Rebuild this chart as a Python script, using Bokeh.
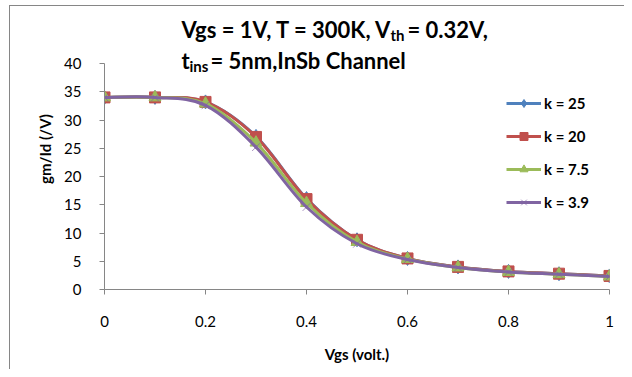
import numpy as np
from bokeh.plotting import figure
from bokeh.models import Range1d, FixedTicker, Label, Legend, LegendItem
from bokeh.embed import file_html
from bokeh.resources import INLINE

# ---------------- data ----------------
vgs = [0.0, 0.1, 0.2, 0.3, 0.4, 0.5, 0.6, 0.7, 0.8, 0.9, 1.0]
k25 = [34.0, 34.0, 33.2, 27.1, 16.1, 8.8, 5.5, 4.0, 3.2, 2.8, 2.4]
k20 = [34.0, 34.0, 33.2, 27.0, 16.0, 8.8, 5.5, 4.0, 3.2, 2.8, 2.4]
k75 = [34.0, 34.0, 32.9, 26.0, 15.3, 8.4, 5.4, 3.9, 3.1, 2.7, 2.3]
k39 = [34.0, 34.0, 32.6, 25.2, 14.6, 8.1, 5.3, 3.9, 3.1, 2.7, 2.3]
series_labels = ["k = 25", "k = 20", "k = 7.5", "k = 3.9"]
x_ticks = [0.0, 0.2, 0.4, 0.6, 0.8, 1.0]
x_tick_labels = ["0", "0.2", "0.4", "0.6", "0.8", "1"]
y_ticks = [0, 5, 10, 15, 20, 25, 30, 35, 40]
Y_MAX = 40

FONT = "Lato"
colors = ["#4F81BD", "#C0504D", "#9BBB59", "#8064A2"]
markers = ["diamond", "square", "triangle", "x"]
msizes = [14, 11, 12, 11]

# page geometry (pixels)
OX, OY = 9, 7            # page position of the figure content
AX_L, AX_R = 103, 608    # page x of Vgs = 0 and Vgs = 1
AX_B, AX_T = 290, 64     # page y of 0 and Y_MAX

W, H = 615, 364
L = AX_L - OX
R = W - (AX_R - OX)
T = 2
B = H - (AX_B - OY)
top_val = Y_MAX * (AX_B - (OY + T)) / (AX_B - AX_T)   # frame extends above axis for the title

p = figure(width=W, height=H, output_backend="svg", toolbar_location=None,
           x_range=Range1d(0, 1), y_range=Range1d(0, top_val),
           min_border_left=L, min_border_right=R, min_border_top=T, min_border_bottom=B)
p.styles = {"border-left": "1px solid #868686", "border-top": "1px solid #868686",
            "margin-left": "9px", "margin-top": "5px"}
p.outline_line_color = None
p.xgrid.grid_line_color = None
p.ygrid.grid_line_color = None
p.background_fill_color = "white"
p.border_fill_color = "white"

for ax in (p.xaxis[0], p.yaxis[0]):
    ax.axis_line_color = "#868686"
    ax.major_tick_line_color = "#868686"
    ax.major_tick_in = 0
    ax.major_tick_out = 5
    ax.minor_tick_line_color = None
    ax.major_label_text_font = FONT
    ax.major_label_text_font_size = "15px"
    ax.major_label_text_color = "#000000"
    ax.axis_label_text_font = FONT
    ax.axis_label_text_font_size = "15px"
    ax.axis_label_text_font_style = "bold"
    ax.axis_label_text_color = "#000000"

p.yaxis.bounds = (0, Y_MAX)
p.xaxis.ticker = FixedTicker(ticks=x_ticks)
p.xaxis.major_label_overrides = {t: s for t, s in zip(x_ticks, x_tick_labels)}
p.yaxis.ticker = FixedTicker(ticks=y_ticks)
p.xaxis.major_label_standoff = 21
p.yaxis.major_label_standoff = 18
p.xaxis.axis_label = "Vgs (volt.)"
p.yaxis.axis_label = "gm/Id (/V)"
p.xaxis.axis_label_standoff = 15
p.yaxis.axis_label_standoff = 7


def smooth_segments(xs, ys):
    xs = np.asarray(xs, float)
    ys = np.asarray(ys, float)
    n = len(xs)
    xp = np.concatenate([[xs[0]], xs, [xs[-1]]])
    yp = np.concatenate([[ys[0]], ys, [ys[-1]]])
    i = np.arange(n - 1) + 1
    return dict(
        x0=xp[i], y0=yp[i], x1=xp[i + 1], y1=yp[i + 1],
        cx0=xp[i] + (xp[i + 1] - xp[i - 1]) / 6.0,
        cy0=yp[i] + (yp[i + 1] - yp[i - 1]) / 6.0,
        cx1=xp[i + 1] - (xp[i + 2] - xp[i]) / 6.0,
        cy1=yp[i + 1] - (yp[i + 2] - yp[i]) / 6.0,
    )


items = []
for ys, c, m, ms, lab in zip([k25, k20, k75, k39], colors, markers, msizes, series_labels):
    seg = smooth_segments(vgs, ys)
    p.bezier(line_color=c, line_width=3, line_cap="round", **seg)
    if m == "x":
        sr = p.scatter(vgs, ys, marker=m, size=ms, line_color=c, line_width=1, line_alpha=0.7)
    else:
        sr = p.scatter(vgs, ys, marker=m, size=ms, fill_color=c, line_color=c)
    # legend-only line sample (kept outside the visible ranges)
    lr = p.line(x=[-5, -4], y=[-5, -5], line_color=c, line_width=3)
    items.append(LegendItem(label=lab, renderers=[lr, sr]))

legend = Legend(items=items, location=(402, 77), orientation="vertical",
                glyph_width=35, glyph_height=20, label_height=20, spacing=13,
                label_standoff=3, padding=0, margin=0,
                border_line_color=None, background_fill_alpha=0,
                label_text_font=FONT, label_text_font_size="15px",
                label_text_font_style="bold", label_text_color="#000000")
p.add_layout(legend)


# ---------------- title (multi-part with subscripts) ----------------
def dx(px):
    return (px - AX_L) / (AX_R - AX_L)


def dy(py):
    return (AX_B - py) * Y_MAX / (AX_B - AX_T)


TX = 180
pieces = [
    ("Vgs = 1V, T = 300K, V", TX, 30, "22px"),
    ("th", TX + 209, 35, "15px"),
    (" = 0.32V,", TX + 226, 30, "22px"),
    ("t", TX, 61, "22px"),
    ("ins", TX + 8, 66, "15px"),
    (" = 5nm,InSb Channel", TX + 29, 61, "22px"),
]
for txt, px, py, fs in pieces:
    p.add_layout(Label(x=dx(px), y=dy(py), text=txt, text_font=FONT,
                       text_font_size=fs, text_font_style="bold",
                       text_color="#000000", text_baseline="alphabetic",
                       text_align="left"))

open("out.html", "w").write(file_html(p, INLINE))
